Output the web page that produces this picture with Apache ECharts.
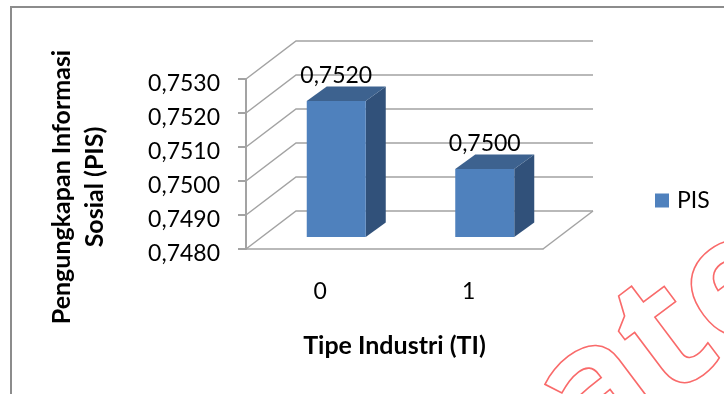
<!DOCTYPE html>
<html>
<head>
<meta charset="utf-8">
<style>html,body{margin:0;padding:0;background:#fff}#c{width:724px;height:394px}</style>
<script src="https://cdn.jsdelivr.net/npm/echarts@6/dist/echarts.min.js"></script>
</head>
<body>
<div id="c"></div>
<script>
const categories = ['0', '1'];
const seriesName = 'PIS';
const values = [0.7520, 0.7500];
const yTicks = [0.7480, 0.7490, 0.7500, 0.7510, 0.7520, 0.7530];
const xTitle = 'Tipe Industri (TI)';
const yTitle = 'Pengungkapan Informasi\nSosial (PIS)';
const stampText = 'Create';

const comma = v => v.toFixed(4).replace('.', ',');
const FONT = 'Lato';
const GRID_COLOR = '#a3a3a3';
const WALL = [50, -38];        // depth of the 3D box
const BAR_SHIFT = [16, -12];   // bars stand part-way into the box
const BAR_DEPTH = [20, -14.5];
const BAR_WIDTH = 59;

function renderWall(params, api) {
  const cs = params.coordSys;
  const y = api.coord([0, api.value(1)])[1];
  const x0 = cs.x, x1 = cs.x + WALL[0], x2 = cs.x + cs.width + WALL[0], yb = y + WALL[1];
  return {
    type: 'polyline',
    shape: { points: [[x0, y], [x1, yb], [x2, yb]] },
    style: { stroke: GRID_COLOR, lineWidth: 1.5, fill: null }
  };
}

function renderFloor(params, api) {
  const cs = params.coordSys;
  const yf = cs.y + cs.height, yb = yf + WALL[1];
  return {
    type: 'polyline',
    shape: { points: [[cs.x + cs.width, yf], [cs.x + cs.width + WALL[0], yb]] },
    style: { stroke: GRID_COLOR, lineWidth: 1.5, fill: null }
  };
}

function renderBar(params, api) {
  const top = api.coord([api.value(0), api.value(1)]);
  const base = api.coord([api.value(0), yTicks[0]]);
  const xl = top[0] - BAR_WIDTH / 2 + BAR_SHIFT[0];
  const xr = xl + BAR_WIDTH;
  const yt = top[1] + BAR_SHIFT[1];
  const yb = base[1] + BAR_SHIFT[1];
  const dx = BAR_DEPTH[0], dy = BAR_DEPTH[1];
  return {
    type: 'group',
    children: [
      { type: 'polygon', shape: { points: [[xr, yt], [xr + dx, yt + dy], [xr + dx, yb + dy], [xr, yb]] },
        style: { fill: '#31517a' } },
      { type: 'polygon', shape: { points: [[xl, yt], [xl + dx, yt + dy], [xr + dx, yt + dy], [xr, yt]] },
        style: { fill: '#3d628f' } },
      { type: 'rect', shape: { x: xl, y: yt, width: BAR_WIDTH, height: yb - yt },
        style: { fill: '#4f81bd' } },
      { type: 'text', style: { x: (xl + xr) / 2, y: yt - 25, text: comma(api.value(1)),
          fill: '#000', font: '23px ' + FONT, textAlign: 'center', textVerticalAlign: 'middle' } }
    ]
  };
}

const chart = echarts.init(document.getElementById('c'), null, { renderer: 'canvas' });
chart.setOption({
  animation: false,
  backgroundColor: '#fff',
  grid: { left: 246, top: 79, width: 297, height: 170 },
  legend: {
    data: [{ name: seriesName, icon: 'rect' }],
    left: 655, top: 189, padding: 0, itemWidth: 14, itemHeight: 14, itemGap: 6,
    textStyle: { fontFamily: FONT, fontSize: 23, color: '#000', padding: [0, 0, 0, 3] }
  },
  xAxis: {
    type: 'category', data: categories,
    axisLine: { lineStyle: { color: GRID_COLOR, width: 1.5 } },
    axisTick: { show: false },
    axisLabel: { margin: 31, fontFamily: FONT, fontSize: 23, color: '#000' },
    name: xTitle, nameLocation: 'middle', nameGap: 84,
    nameTextStyle: { fontFamily: FONT, fontSize: 25, fontWeight: 'bold', color: '#000' }
  },
  yAxis: {
    type: 'value', min: yTicks[0], max: yTicks[yTicks.length - 1], interval: 0.001,
    axisLine: { show: true, lineStyle: { color: GRID_COLOR, width: 2 } },
    axisTick: { show: true, length: 8, lineStyle: { color: GRID_COLOR, width: 2 } },
    splitLine: { show: false },
    axisLabel: { margin: 26, verticalAlign: 'top', lineHeight: 10, fontFamily: FONT, fontSize: 23, color: '#000', formatter: comma }
  },
  graphic: [
    { type: 'rect', silent: true, shape: { x: 11, y: 7, width: 800, height: 500 },
      style: { fill: 'none', stroke: '#8c8c8c', lineWidth: 2 }, z: 1 },
    { type: 'text', silent: true, x: 78, y: 187, rotation: Math.PI / 2,
      style: { text: yTitle, font: 'bold 25px ' + FONT, fill: '#000', textAlign: 'center',
        textVerticalAlign: 'middle', lineHeight: 33 }, z: 10 },
    { type: 'text', silent: true, x: 378, y: 664, rotation: 37 * Math.PI / 180,
      style: { text: stampText, font: 'bold 170px "Open Sans"', fill: 'rgba(255,255,255,0)',
        stroke: '#f96a6a', lineWidth: 1.6, textAlign: 'left', textVerticalAlign: 'bottom' }, z: 10 }
  ],
  series: [
    { type: 'custom', name: 'wall', coordinateSystem: 'cartesian2d', renderItem: renderWall,
      data: yTicks.map(v => [0, v]), silent: true, z: 1 },
    { type: 'custom', name: 'floor', coordinateSystem: 'cartesian2d', renderItem: renderFloor,
      data: [[0, yTicks[0]]], silent: true, z: 1 },
    { type: 'custom', name: seriesName, coordinateSystem: 'cartesian2d', renderItem: renderBar,
      itemStyle: { color: '#4f81bd' },
      data: values.map((v, i) => [i, v]), z: 3 }
  ]
});
</script>
</body>
</html>
